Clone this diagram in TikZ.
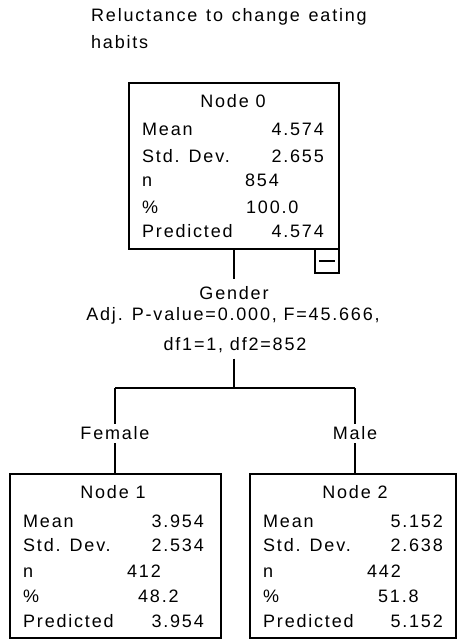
\documentclass[tikz,border=0pt]{standalone}
\usepackage{fontspec}
\setmainfont{Liberation Sans}[LetterSpace=10]
\begin{document}
\begin{tikzpicture}[x=1pt,y=-1pt,
  font=\fontsize{18}{22}\selectfont,
  box/.style={draw, line width=1.6pt, rectangle, inner sep=0},
  lbl/.style={anchor=base west, inner sep=0},
  val/.style={anchor=base east, inner sep=0},
  ctr/.style={anchor=base, inner sep=0},
  conn/.style={line width=1.5pt}]
\path[use as bounding box, fill=white] (0,0) rectangle (457,640);

% title
\node[lbl] (t1) at (91,21) {Reluctance\hspace{2pt} to\hspace{2pt} change\hspace{2pt} eating};
\node[lbl] (t2) at (91,48) {habits};

% Node 0
\node[box, minimum width=210pt, minimum height=166pt] (n0) at (234,166) {};
\node[ctr] (n0t) at (233,107) {Node 0};
\node[lbl] (n0a) at (142,135) {Mean};
\node[lbl] (n0b) at (142,162) {Std. Dev.};
\node[lbl] (n0c) at (142,186) {n};
\node[lbl] (n0d) at (142,213) {\%};
\node[lbl] (n0e) at (142,237) {Predicted};
\node[val] (n0av) at (324,135) {4.574};
\node[val] (n0bv) at (324,162) {2.655};
\node[lbl] (n0cv) at (245,186) {854};
\node[lbl] (n0dv) at (246,213) {100.0};
\node[val] (n0ev) at (324,237) {4.574};
\node[box, minimum width=24pt, minimum height=24pt] (mb) at (327,261) {};
\draw[line width=1.5pt] ([xshift=5pt]mb.west) -- ([xshift=-5pt]mb.east);

% split
\node[ctr] (g1) at (234,299) {Gender};
\node[ctr] (g2) at (233,320) {Adj. P-value=0.000, F=45.666,};
\node[ctr] (g3) at (235,350) {df1=1, df2=852};
\coordinate (j) at (234,388);
\coordinate (jl) at (115,388);
\coordinate (jr) at (355,388);
\draw[conn] (n0.south) -- ([yshift=7pt]g1.north);
\draw[conn] ([yshift=-6pt]g3.south -| j) -- (j);
\draw[conn] (jl) -- (jr);

\node[ctr] (fem) at (115,439) {Female};
\node[ctr] (male) at (355,439) {Male};
\draw[conn] (jl) -- ([yshift=2pt]fem.north);
\draw[conn] (jr) -- ([yshift=2pt]male.north);

% Node 1
\node[box, minimum width=211pt, minimum height=164pt] (n1) at (115.5,556) {};
\node[ctr] (n1t) at (113,498) {Node 1};
\node[lbl] (n1a) at (23,527) {Mean};
\node[lbl] (n1b) at (23,551) {Std. Dev.};
\node[lbl] (n1c) at (23,577) {n};
\node[lbl] (n1d) at (23,602) {\%};
\node[lbl] (n1e) at (23,627) {Predicted};
\node[val] (n1av) at (204,527) {3.954};
\node[val] (n1bv) at (204,551) {2.534};
\node[lbl] (n1cv) at (127,577) {412};
\node[lbl] (n1dv) at (138,602) {48.2};
\node[val] (n1ev) at (204,627) {3.954};

% Node 2
\node[box, minimum width=206pt, minimum height=164pt] (n2) at (353,556) {};
\node[ctr] (n2t) at (355,498) {Node 2};
\node[lbl] (n2a) at (263,527) {Mean};
\node[lbl] (n2b) at (263,551) {Std. Dev.};
\node[lbl] (n2c) at (263,577) {n};
\node[lbl] (n2d) at (263,602) {\%};
\node[lbl] (n2e) at (263,627) {Predicted};
\node[val] (n2av) at (443,527) {5.152};
\node[val] (n2bv) at (443,551) {2.638};
\node[lbl] (n2cv) at (367,577) {442};
\node[lbl] (n2dv) at (378,602) {51.8};
\node[val] (n2ev) at (443,627) {5.152};

\draw[conn] ([yshift=-4pt]fem.south) -- (fem.south |- n1.north);
\draw[conn] ([yshift=-4pt]male.south) -- (male.south |- n2.north);
\end{tikzpicture}
\end{document}
